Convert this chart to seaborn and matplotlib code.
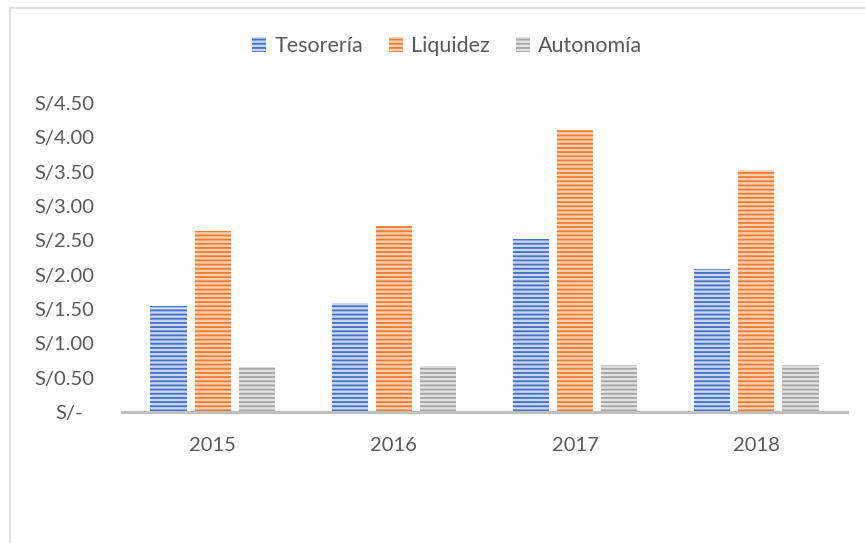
import matplotlib
matplotlib.use("Agg")
import matplotlib.pyplot as plt
from matplotlib.patches import Patch
from matplotlib.lines import Line2D
from matplotlib.transforms import ScaledTranslation
import seaborn as sns
import pandas as pd

years = ["2015", "2016", "2017", "2018"]
series = ["Tesorería", "Liquidez", "Autonomía"]
tesoreria = [1.54, 1.59, 2.52, 2.08]
liquidez = [2.64, 2.71, 4.11, 3.53]
autonomia = [0.66, 0.67, 0.68, 0.69]
ytick_values = [0, 0.5, 1.0, 1.5, 2.0, 2.5, 3.0, 3.5, 4.0, 4.5]
ytick_labels = ["S/-", "S/0.50", "S/1.00", "S/1.50", "S/2.00", "S/2.50",
                "S/3.00", "S/3.50", "S/4.00", "S/4.50"]

dark = ["#4472C4", "#ED7D31", "#A5A5A5"]
light = ["#c9d6ef", "#f9cfb1", "#e2e2e2"]
text_color = "#595959"

df = pd.DataFrame({
    "year": years * 3,
    "serie": [series[0]] * 4 + [series[1]] * 4 + [series[2]] * 4,
    "value": tesoreria + liquidez + autonomia,
})

sns.set_theme(style="white")
plt.rcParams["font.family"] = ["Lato", "DejaVu Sans"]
plt.rcParams["hatch.linewidth"] = 1.3

fig = plt.figure(figsize=(8.65, 5.43), dpi=100)
ax = fig.add_axes([122 / 865, (543 - 412) / 543, 725 / 865, (412 - 103) / 543])

sns.barplot(data=df, x="year", y="value", hue="serie", hue_order=series,
            order=years, palette=dark, width=0.73, gap=0.18, saturation=1,
            legend=False, ax=ax)

for i, cont in enumerate(ax.containers):
    for p in cont:
        p.set_facecolor(light[i])
        p.set_edgecolor(dark[i])
        p.set_hatch("----")
        p.set_linewidth(0)

ax.set_xlim(-0.5, 3.5)
ax.set_ylim(0, 4.5)
ax.set_yticks(ytick_values)
ax.set_yticklabels(ytick_labels)
ax.set_xlabel("")
ax.set_ylabel("")
for s in ["top", "right", "left"]:
    ax.spines[s].set_visible(False)
ax.spines["bottom"].set_color("#bfbfbf")
ax.spines["bottom"].set_linewidth(2.2)
ax.spines["bottom"].set_zorder(5)
ax.tick_params(axis="y", length=0, pad=20, labelsize=14.5, labelcolor=text_color)
ax.tick_params(axis="x", length=0, pad=18, labelsize=14.5, labelcolor=text_color)
ylabels = ax.get_yticklabels()
for lbl in ylabels:
    lbl.set_horizontalalignment("right")
# the zero label sits a little further left, as in the accounting format
ylabels[0].set_transform(ylabels[0].get_transform()
                         + ScaledTranslation(-11 / 100, 0, fig.dpi_scale_trans))

handles = [Patch(facecolor=light[i], edgecolor=dark[i], hatch="----", linewidth=0)
           for i in range(3)]
fig.legend(handles, series, loc="center", bbox_to_anchor=(447 / 865, (543 - 46) / 543),
           ncol=3, frameon=False, fontsize=15.5, labelcolor=text_color,
           handlelength=0.65, handleheight=0.65, handletextpad=0.37,
           columnspacing=1.2)

fig.add_artist(Line2D([10 / 865, 10 / 865], [0, (543 - 8) / 543],
                      transform=fig.transFigure, color="#d9d9d9", linewidth=1.2))
fig.add_artist(Line2D([10 / 865, 1], [(543 - 8) / 543, (543 - 8) / 543],
                      transform=fig.transFigure, color="#d9d9d9", linewidth=1.2))

fig.savefig("out.png", dpi=100)
